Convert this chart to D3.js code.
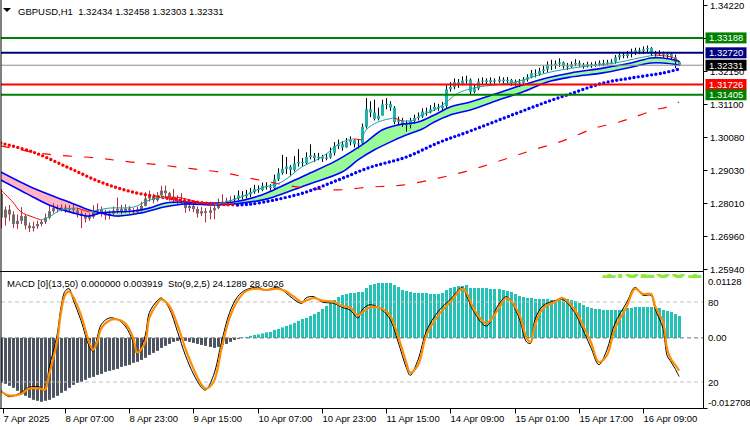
<!DOCTYPE html>
<html>
<head>
<meta charset="utf-8">
<script src="https://cdn.jsdelivr.net/npm/d3@7"></script>
<style>
  body { margin: 0; background: #fff; }
  svg { display: block; font-family: "Liberation Sans", Arial, sans-serif; font-size: 9.5px; }
</style>
</head>
<body>
<svg id="chart" width="750" height="430"></svg>
<script>
// ---- data ----
const title = "GBPUSD,H1  1.32434 1.32458 1.32303 1.32331";
const subTitle = "MACD [0](13,50) 0.000000 0.003919  Sto(9,2,5) 24.1289 28.6026";

const firstOpen = 1.2830;
const closes = [
  1.2755,1.2780,1.2765,1.2735,1.2745,1.2760,1.2730,1.2722,1.2728,1.2735,
  1.2742,1.2755,1.2775,1.2785,1.2782,1.2787,1.2780,1.2784,1.2778,1.2768,
  1.2760,1.2752,1.2758,1.2775,1.2780,1.2770,1.2762,1.2768,1.2777,1.2783,
  1.2776,1.2784,1.2778,1.2772,1.2780,1.2792,1.2815,1.2822,1.2810,1.2825,
  1.2840,1.2832,1.2820,1.2812,1.2808,1.2805,1.2785,1.2792,1.2782,1.2768,
  1.2775,1.2770,1.2778,1.2785,1.2802,1.2805,1.2808,1.2810,1.2815,1.2825,
  1.2822,1.2828,1.2835,1.2845,1.2842,1.2855,1.2852,1.2848,1.2875,1.2895,
  1.2908,1.2915,1.2905,1.2925,1.2930,1.2926,1.2945,1.2950,1.2942,1.2946,
  1.2940,1.2944,1.2958,1.2980,1.2985,1.2975,1.2992,1.2998,1.2985,1.2988,
  1.3040,1.3095,1.3085,1.3065,1.3075,1.3110,1.3112,1.3100,1.3055,1.3060,
  1.3050,1.3045,1.3058,1.3068,1.3072,1.3088,1.3085,1.3095,1.3102,1.3098,
  1.3105,1.3158,1.3165,1.3180,1.3175,1.3185,1.3188,1.3150,1.3160,1.3182,
  1.3185,1.3180,1.3186,1.3182,1.3188,1.3183,1.3187,1.3176,1.3180,1.3178,
  1.3188,1.3195,1.3208,1.3205,1.3215,1.3220,1.3235,1.3232,1.3238,1.3242,
  1.3230,1.3228,1.3236,1.3240,1.3235,1.3230,1.3236,1.3232,1.3237,1.3240,
  1.3238,1.3242,1.3244,1.3258,1.3265,1.3262,1.3268,1.3275,1.3280,1.3277,
  1.3283,1.3287,1.3270,1.3268,1.3272,1.3266,1.3268,1.3258,1.32434,1.32331
];
const highs = [
  1.2845,1.2790,1.2795,1.2775,1.2765,1.2788,1.2765,1.2740,1.2742,1.2745,
  1.2750,1.2768,1.2795,1.2800,1.2795,1.2797,1.2796,1.2794,1.2797,1.2785,
  1.2778,1.2770,1.2768,1.2794,1.2800,1.2790,1.2780,1.2778,1.2790,1.2818,
  1.2795,1.2797,1.2792,1.2785,1.2790,1.2805,1.2835,1.2840,1.2830,1.2835,
  1.2855,1.2856,1.2836,1.2845,1.2825,1.2832,1.2812,1.2805,1.2800,1.2790,
  1.2788,1.2785,1.2790,1.2800,1.2815,1.2828,1.2818,1.2822,1.2825,1.2840,
  1.2838,1.2842,1.2848,1.2858,1.2856,1.2865,1.2866,1.2860,1.2890,1.2910,
  1.2952,1.2945,1.2920,1.2948,1.2970,1.2942,1.2960,1.2985,1.2958,1.2958,
  1.2952,1.2955,1.2975,1.2992,1.3000,1.2995,1.3005,1.3010,1.3000,1.3002,
  1.3050,1.3130,1.3120,1.3125,1.3100,1.3125,1.3130,1.3120,1.3105,1.3072,
  1.3068,1.3060,1.3068,1.3078,1.3085,1.3098,1.3100,1.3108,1.3115,1.3112,
  1.3118,1.3170,1.3180,1.3192,1.3190,1.3198,1.3200,1.3192,1.3172,1.3192,
  1.3195,1.3192,1.3195,1.3192,1.3198,1.3195,1.3196,1.3190,1.3188,1.3190,
  1.3196,1.3205,1.3218,1.3220,1.3225,1.3232,1.3245,1.3250,1.3248,1.3255,
  1.3245,1.3240,1.3245,1.3252,1.3248,1.3240,1.3244,1.3242,1.3245,1.3248,
  1.3250,1.3250,1.3252,1.3265,1.3275,1.3275,1.3278,1.3285,1.3288,1.3288,
  1.3292,1.3295,1.3290,1.3278,1.3280,1.3276,1.3275,1.3272,1.3266,1.32458
];
const lows = [
  1.2722,1.2730,1.2745,1.2722,1.2720,1.2735,1.2718,1.2710,1.2712,1.2720,
  1.2728,1.2735,1.2750,1.2768,1.2772,1.2774,1.2770,1.2775,1.2768,1.2755,
  1.2722,1.2740,1.2745,1.2752,1.2765,1.2758,1.2748,1.2750,1.2762,1.2768,
  1.2765,1.2770,1.2768,1.2765,1.2768,1.2775,1.2790,1.2805,1.2800,1.2805,
  1.2820,1.2815,1.2808,1.2800,1.2798,1.2795,1.2770,1.2775,1.2772,1.2755,
  1.2760,1.2740,1.2750,1.2750,1.2782,1.2795,1.2800,1.2802,1.2804,1.2810,
  1.2812,1.2815,1.2820,1.2830,1.2833,1.2838,1.2843,1.2840,1.2843,1.2870,
  1.2890,1.2892,1.2885,1.2900,1.2915,1.2915,1.2922,1.2938,1.2930,1.2935,
  1.2930,1.2935,1.2940,1.2950,1.2970,1.2965,1.2975,1.2982,1.2975,1.2972,
  1.2985,1.3035,1.3070,1.3060,1.3060,1.3075,1.3095,1.3090,1.3048,1.3045,
  1.3040,1.3025,1.3035,1.3050,1.3060,1.3068,1.3075,1.3082,1.3090,1.3090,
  1.3092,1.3100,1.3150,1.3158,1.3162,1.3170,1.3175,1.3140,1.3145,1.3155,
  1.3172,1.3172,1.3175,1.3175,1.3178,1.3176,1.3178,1.3168,1.3168,1.3165,
  1.3175,1.3182,1.3192,1.3195,1.3200,1.3208,1.3212,1.3218,1.3222,1.3228,
  1.3222,1.3218,1.3225,1.3230,1.3228,1.3222,1.3226,1.3225,1.3228,1.3230,
  1.3230,1.3235,1.3236,1.3238,1.3250,1.3255,1.3255,1.3258,1.3265,1.3268,
  1.3268,1.3272,1.3262,1.3260,1.3262,1.3258,1.3256,1.3250,1.3224,1.32303
];
const uptrendFrom = 58; // candles switch to the bullish colouring here

// moving averages, sampled at bar indices
const ma200Bars = [0,11,24,32,40,48,56,62,68,76,84,92,100,109,117,125,132,140,148,154,158,163,166,169];
const ma200Vals = [1.2980,1.2955,1.2942,1.2930,1.2920,1.2908,1.2895,1.2879,1.2864,1.2848,1.2842,1.2851,1.2857,1.2879,1.2904,1.2936,1.2965,1.2996,1.3036,1.3055,1.3071,1.3093,1.3102,1.3118];
const dotBars = [0,8,17,25,33,41,46,51,56,59,62,68,76,84,92,101,109,117,128,136,143,150,157,165,169];
const dotVals = [1.2989,1.2961,1.2911,1.2866,1.2835,1.2817,1.2808,1.2801,1.2796,1.2795,1.2797,1.2810,1.2835,1.2873,1.2913,1.2945,1.2990,1.3027,1.3080,1.3118,1.3148,1.3177,1.3193,1.3209,1.3221];
const thinBars = [0,3,5,8,10,12,15,19,22,27,33,37,41,45,50,53,56,60,65,70,75,80,85,88,90,91,94,98,100,103,104,109,114,117,119,128,136,144,153,159,163,167,169];
const thinVals = [1.2842,1.2804,1.2773,1.2757,1.2748,1.2757,1.2779,1.2785,1.2773,1.2785,1.2788,1.2810,1.2820,1.2817,1.2801,1.2795,1.2804,1.2820,1.2848,1.2867,1.2914,1.2945,1.2992,1.3002,1.2999,1.3030,1.3055,1.3068,1.3058,1.3061,1.3071,1.3099,1.3146,1.3159,1.3165,1.3180,1.3209,1.3227,1.3240,1.3256,1.3265,1.3259,1.3246];
const fastBars = [0,8,12,18,22,25,33,37,41,46,51,58,65,68,76,83,88,91,95,99,104,108,112,117,124,130,136,142,150,157,162,165,169];
const fastVals = [1.2873,1.2820,1.2795,1.2770,1.2760,1.2770,1.2776,1.2785,1.2801,1.2804,1.2801,1.2804,1.2826,1.2842,1.2889,1.2930,1.2967,1.2992,1.3030,1.3046,1.3055,1.3077,1.3102,1.3118,1.3146,1.3171,1.3193,1.3209,1.3224,1.3240,1.3256,1.3256,1.3246];
const slowBars = [0,8,17,22,25,29,35,41,46,53,58,65,68,76,85,89,93,97,101,105,108,112,117,124,130,136,142,150,157,162,165,169];
const slowVals = [1.2898,1.2848,1.2804,1.2779,1.2770,1.2760,1.2770,1.2789,1.2798,1.2795,1.2798,1.2810,1.2820,1.2857,1.2898,1.2936,1.2967,1.2992,1.3014,1.3033,1.3055,1.3077,1.3093,1.3124,1.3149,1.3180,1.3196,1.3209,1.3227,1.3240,1.3240,1.3234];

// horizontal levels
const levelPrices = [1.33188, 1.32720, 1.31726, 1.31405];
const levelColors = ["#008000", "#000080", "#ff0000", "#008000"];
const bidPrice = 1.32331;

const priceTicks = [1.34220, 1.33180, 1.32150, 1.31100, 1.30080, 1.29030, 1.28010, 1.26960, 1.25940];

const timeTickBars = [0,16,32,48,64,80,96,112,128,144,160];
const timeTickLabels = ["7 Apr 2025","8 Apr 07:00","8 Apr 23:00","9 Apr 15:00","10 Apr 07:00","10 Apr 23:00",
  "11 Apr 15:00","14 Apr 09:00","15 Apr 01:00","15 Apr 17:00","16 Apr 09:00"];

// MACD histogram, one per bar
const macdHist = [
  -0.00891,-0.00911,-0.00950,-0.00990,-0.01049,-0.01109,-0.01148,-0.01188,-0.01228,-0.01247,
  -0.01267,-0.01247,-0.01228,-0.01188,-0.01148,-0.01089,-0.01049,-0.00990,-0.00931,-0.00891,
  -0.00871,-0.00832,-0.00792,-0.00772,-0.00733,-0.00713,-0.00673,-0.00653,-0.00634,-0.00614,
  -0.00574,-0.00554,-0.00535,-0.00495,-0.00475,-0.00436,-0.00396,-0.00337,-0.00297,-0.00257,
  -0.00198,-0.00158,-0.00119,-0.00079,-0.00059,-0.00040,-0.00059,-0.00079,-0.00099,-0.00119,
  -0.00139,-0.00158,-0.00178,-0.00198,-0.00178,-0.00139,-0.00119,-0.00079,-0.00040,-0.00020,
  0.00010,0.00020,0.00040,0.00059,0.00069,0.00089,0.00109,0.00119,0.00158,0.00178,
  0.00208,0.00238,0.00267,0.00297,0.00337,0.00376,0.00396,0.00436,0.00475,0.00515,
  0.00574,0.00634,0.00693,0.00752,0.00812,0.00851,0.00871,0.00891,0.00891,0.00911,
  0.00911,0.00990,0.01049,0.01069,0.01089,0.01089,0.01089,0.01089,0.01049,0.01010,
  0.00950,0.00931,0.00911,0.00891,0.00891,0.00891,0.00891,0.00871,0.00871,0.00871,
  0.00891,0.00950,0.00990,0.01010,0.01030,0.01030,0.01049,0.00990,0.00990,0.00990,
  0.00990,0.00990,0.00970,0.00970,0.00970,0.00950,0.00931,0.00911,0.00871,0.00832,
  0.00812,0.00792,0.00792,0.00772,0.00772,0.00772,0.00772,0.00752,0.00752,0.00772,
  0.00792,0.00772,0.00752,0.00733,0.00693,0.00653,0.00614,0.00594,0.00574,0.00574,
  0.00554,0.00554,0.00554,0.00554,0.00554,0.00574,0.00594,0.00594,0.00614,0.00614,
  0.00614,0.00614,0.00614,0.00594,0.00594,0.00554,0.00535,0.00515,0.00475,0.00436
];
const macdTicks = [0.01128, 0, -0.012708];
const macdTickLabels = ["0.01128", "0.00", "-0.012708"];

// stochastic, sampled at bar indices
const stochBars = [0,2,5,7,10,11,12,14,15,16,17,18,20,22,23,24,25,27,29,31,33,34,36,37,39,40,42,44,46,48,
  50,51,53,55,57,59,61,64,66,69,71,73,75,76,78,80,83,85,87,89,90,92,95,97,99,101,102,104,106,109,
  112,115,116,118,121,124,126,129,131,132,133,135,138,140,143,144,147,149,151,153,156,158,160,162,163,165,166,167,168,169];
const stochSignal = [13,10,11,15,15,14,25,50,72,85,88,84,70,50,44,50,60,66,67,64,53,42,50,68,79,82,77,63,45,30,
  18,15,20,45,68,81,88,90,89,90,88,84,80,81,83,81,80,77,76,70,72,76,75,70,54,35,27,33,55,70,
  80,90,87,74,64,75,83,72,53,50,62,75,80,83,74,69,50,35,40,60,77,90,86,86,77,65,45,37,33,28.6];
const stochMain = [14,9,12,16,16,13,30,55,76,88,90,82,66,47,43,53,63,68,67,62,50,41,55,72,81,83,75,58,40,26,
  16,14,25,50,72,84,89,91,89,91,87,82,79,83,84,80,79,76,74,68,74,78,74,67,50,31,25,37,58,73,
  82,91,85,72,62,78,84,69,50,49,66,77,81,82,72,66,46,33,44,64,80,91,85,85,75,60,40,35,30,24.1];
const stochLevels = [80, 20];
const bigLabel = "1.32331";

// ---- setup ----
const svg = d3.select("#chart");
const axisX = 703.5;
const mainBottom = 271;
const subTop = 274, subBottom = 408.5;

const x = d3.scaleLinear().domain([16, 160]).range([65, 643]);
const y = d3.scaleLinear().domain([1.2594, 1.3422]).range([269, 5]);
const yMacd = d3.scaleLinear().domain([-0.012708, 0.01128]).range([402, 281]);
const yStoch = d3.scaleLinear().domain([20, 80]).range([382, 302]);

const defs = svg.append("defs");
defs.append("clipPath").attr("id", "clipMain")
  .append("rect").attr("x", 1).attr("y", 0).attr("width", axisX - 1).attr("height", mainBottom);
defs.append("clipPath").attr("id", "clipSub")
  .append("rect").attr("x", 1).attr("y", subTop).attr("width", axisX - 1).attr("height", subBottom - subTop);

const pts = (bars, vals) => bars.map((b, k) => [b, vals[k]]);
const curve = d3.curveCatmullRom.alpha(0.5);
const line = d3.line().x(d => x(d[0])).y(d => y(d[1])).curve(curve);

// split a series into runs of rising / falling
function slopeRuns(bars, vals) {
  const runs = [];
  let dir = Math.sign(vals[1] - vals[0]) || 1;
  let cur = [[bars[0], vals[0]]];
  for (let k = 1; k < bars.length; k++) {
    const d = Math.sign(vals[k] - vals[k - 1]) || dir;
    if (d !== dir) {
      runs.push({dir, pts: cur});
      cur = [[bars[k - 1], vals[k - 1]]];
      dir = d;
    }
    cur.push([bars[k], vals[k]]);
  }
  runs.push({dir, pts: cur});
  return runs;
}

const main = svg.append("g").attr("clip-path", "url(#clipMain)");

// band fill between fast and slow averages
const fastPts = pts(fastBars, fastVals);
const slowPts = pts(slowBars, slowVals);
const slowD = line(slowPts);
const bandD = line(fastPts) + "L" + line(slowPts.slice().reverse()).slice(1) + "Z";
const sx0 = x(slowBars[0]) - 2, sx1 = x(slowBars[slowBars.length - 1]) + 2;
defs.append("clipPath").attr("id", "aboveSlow")
  .append("path").attr("d", slowD + `L${sx1},-50L${sx0},-50Z`);
defs.append("clipPath").attr("id", "belowSlow")
  .append("path").attr("d", slowD + `L${sx1},500L${sx0},500Z`);

main.append("g").attr("clip-path", "url(#aboveSlow)")
  .append("path").attr("d", bandD).attr("fill", "#98fb98");
main.append("g").attr("clip-path", "url(#belowSlow)")
  .append("path").attr("d", bandD).attr("fill", "#ffb6c1");

// candles
const opens = closes.map((c, i) => i === 0 ? firstOpen : closes[i - 1]);
const candles = main.append("g");
closes.forEach((c, i) => {
  const cx = Math.round(x(i));
  const up = i >= uptrendFrom;
  candles.append("line")
    .attr("x1", cx + 0.5).attr("x2", cx + 0.5)
    .attr("y1", y(highs[i])).attr("y2", y(lows[i]))
    .attr("stroke", up ? "#000" : "#c0283c").attr("stroke-width", 1);
  const top = Math.min(y(opens[i]), y(c));
  candles.append("rect")
    .attr("x", cx - 1).attr("width", 3)
    .attr("y", top).attr("height", Math.max(1, Math.abs(y(opens[i]) - y(c))))
    .attr("fill", up ? "#20b2aa" : "#6e6e6e");
});

// band edges
[fastPts, slowPts].forEach(p => {
  main.append("path").attr("d", line(p))
    .attr("fill", "none").attr("stroke", "#0000ff").attr("stroke-width", 1.6);
});

// long average (dashed red)
main.append("path").attr("d", line(pts(ma200Bars, ma200Vals)))
  .attr("fill", "none").attr("stroke", "#ff0000").attr("stroke-width", 1.2)
  .attr("stroke-dasharray", "9,12");

// dotted average, red falling / blue rising
slopeRuns(dotBars, dotVals).forEach(r => {
  main.append("path").attr("d", line(r.pts))
    .attr("fill", "none").attr("stroke", r.dir < 0 ? "#ff0000" : "#0000ff")
    .attr("stroke-width", 3.4).attr("stroke-linecap", "round")
    .attr("stroke-dasharray", "0,4.4");
});

// thin fast average, red falling / teal rising
slopeRuns(thinBars, thinVals).forEach(r => {
  main.append("path").attr("d", line(r.pts))
    .attr("fill", "none").attr("stroke", r.dir < 0 ? "#ff0000" : "#1aa39c")
    .attr("stroke-width", 1);
});

// levels
main.append("line").attr("x1", 0).attr("x2", axisX).attr("y1", y(bidPrice)).attr("y2", y(bidPrice))
  .attr("stroke", "#8c8c8c").attr("stroke-width", 1);
levelPrices.forEach((p, k) => {
  main.append("line").attr("x1", 0).attr("x2", axisX).attr("y1", y(p)).attr("y2", y(p))
    .attr("stroke", levelColors[k]).attr("stroke-width", 2);
});

// ---- price axis ----
const pAxis = svg.append("g");
priceTicks.forEach(p => {
  const ty = Math.round(y(p)) + 0.5;
  pAxis.append("line").attr("x1", axisX).attr("x2", axisX + 4).attr("y1", ty).attr("y2", ty).attr("stroke", "#000");
  pAxis.append("text").attr("x", 710).attr("y", ty + 3.5).attr("fill", "#000").text(p.toFixed(5));
});
function priceBox(p, color) {
  const by = y(p);
  pAxis.append("rect").attr("x", axisX + 2).attr("y", by - 5.5).attr("width", 41).attr("height", 11).attr("fill", color);
  pAxis.append("text").attr("x", 709).attr("y", by + 3.5).attr("fill", "#fff").text(p.toFixed(5));
}
levelPrices.forEach((p, k) => priceBox(p, levelColors[k]));
priceBox(bidPrice, "#000");

// ---- MACD / stochastic panel ----
const sub = svg.append("g").attr("clip-path", "url(#clipSub)");

// only the bottom edge of this big label shows at the top of the panel
sub.append("text").attr("x", 702).attr("y", 277.5).attr("text-anchor", "end")
  .attr("font-size", 28).attr("font-weight", "bold").attr("fill", "#8fe83a").text(bigLabel);

macdHist.forEach((v, i) => {
  const cx = Math.round(x(i));
  const y0 = yMacd(0), y1 = yMacd(v);
  sub.append("rect")
    .attr("x", cx - 1).attr("width", 3)
    .attr("y", Math.min(y0, y1)).attr("height", Math.max(0.5, Math.abs(y1 - y0)))
    .attr("fill", v < 0 ? "#4c5561" : "#24c1b7");
});

stochLevels.forEach(v => {
  sub.append("line").attr("x1", 1).attr("x2", axisX).attr("y1", yStoch(v)).attr("y2", yStoch(v))
    .attr("stroke", "#c0c0c0").attr("stroke-dasharray", "4,3");
});
sub.append("line").attr("x1", 1).attr("x2", axisX).attr("y1", yMacd(0)).attr("y2", yMacd(0))
  .attr("stroke", "#707070").attr("stroke-dasharray", "4,3");

const stLine = d3.line().x(d => x(d[0])).y(d => yStoch(d[1])).curve(curve);
sub.append("path").attr("d", stLine(pts(stochBars, stochMain)))
  .attr("fill", "none").attr("stroke", "#000").attr("stroke-width", 1);
sub.append("path").attr("d", stLine(pts(stochBars, stochSignal)))
  .attr("fill", "none").attr("stroke", "#ff8c00").attr("stroke-width", 2.2);

// sub axis labels
const sAxis = svg.append("g");
macdTicks.forEach((v, k) => {
  sAxis.append("text").attr("x", 708).attr("y", yMacd(v) + 3.5).text(macdTickLabels[k]);
});
stochLevels.forEach(v => {
  sAxis.append("text").attr("x", 708).attr("y", yStoch(v) + 3.5).text(v);
});

// ---- frame ----
const frame = svg.append("g").attr("stroke", "#000").attr("stroke-width", 1);
frame.append("line").attr("x1", 1).attr("x2", 1).attr("y1", 0).attr("y2", subBottom);
frame.append("line").attr("x1", axisX).attr("x2", axisX).attr("y1", 0).attr("y2", subBottom);
frame.append("line").attr("x1", 0).attr("x2", axisX).attr("y1", mainBottom + 0.5).attr("y2", mainBottom + 0.5);
frame.append("line").attr("x1", 0).attr("x2", axisX).attr("y1", subBottom).attr("y2", subBottom);
frame.append("line").attr("x1", axisX).attr("x2", axisX + 4).attr("y1", subBottom).attr("y2", subBottom);

// ---- time axis ----
const tAxis = svg.append("g");
timeTickBars.forEach((b, k) => {
  const tx = Math.max(3, Math.round(x(b))) + 0.5;
  tAxis.append("line").attr("x1", tx).attr("x2", tx).attr("y1", subBottom).attr("y2", subBottom + 5).attr("stroke", "#000");
  tAxis.append("text").attr("x", tx).attr("y", 422).text(timeTickLabels[k]);
});

// ---- titles ----
svg.append("path").attr("d", "M3,8L11,8L7,12Z").attr("fill", "#000");
svg.append("text").attr("x", 18).attr("y", 15).style("white-space", "pre").text(title);
svg.append("text").attr("x", 7).attr("y", 287).style("white-space", "pre").text(subTitle);
</script>
</body>
</html>
